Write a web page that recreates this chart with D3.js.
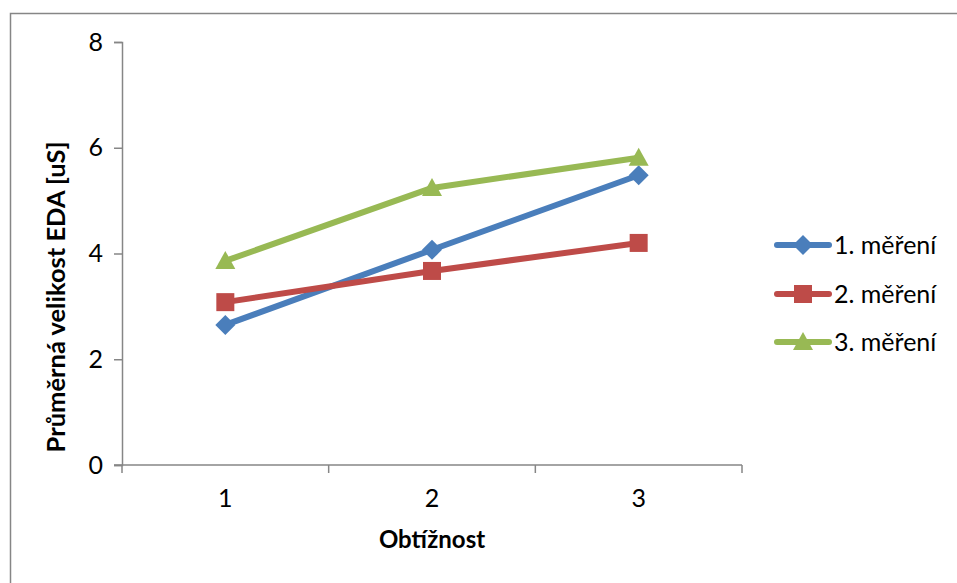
<!DOCTYPE html>
<html><head><meta charset="utf-8">
<script src="https://cdn.jsdelivr.net/npm/d3@7"></script>
<style>body{margin:0;background:#fff}svg{display:block}text{font-family:Lato,"Open Sans",sans-serif}</style>
</head><body><svg id="c" width="957" height="583"></svg>
<script>
const categories = ["1", "2", "3"];
const seriesNames = ["1. měření", "2. měření", "3. měření"];
const series1 = [2.65, 4.07, 5.48];
const series2 = [3.08, 3.67, 4.20];
const series3 = [3.86, 5.24, 5.81];
const yTicks = [0, 2, 4, 6, 8];
const colors = ["#4A7EBB", "#BE4B48", "#98B954"];
const markers = ["diamond", "square", "triangle"];
const allSeries = [series1, series2, series3];

const svg = d3.select("#c");
svg.append("rect").attr("x", 10.5).attr("y", 13.5).attr("width", 1000).attr("height", 1000)
  .attr("fill", "#fff").attr("stroke", "#868686").attr("stroke-width", 1.5);

const x = d3.scaleBand().domain(categories).range([122, 742]).padding(0);
const y = d3.scaleLinear().domain([0, 8]).range([465, 42]);
const axisColor = "#868686";

// Y axis
const gy = svg.append("g").attr("transform", "translate(122,0)")
  .call(d3.axisLeft(y).tickValues(yTicks).tickSize(8).tickPadding(11).tickFormat(d3.format("d")));
gy.select(".domain").attr("stroke", axisColor).attr("stroke-width", 1.5);
gy.selectAll(".tick line").attr("stroke", axisColor).attr("stroke-width", 1.5);
gy.selectAll(".tick text").attr("font-size", 25).attr("fill", "#000").attr("font-family", "Lato");

// X axis
const gx = svg.append("g").attr("transform", "translate(0,465)")
  .call(d3.axisBottom(x).tickSize(0).tickPadding(24));
gx.select(".domain").remove();
gx.selectAll(".tick text").attr("font-size", 25).attr("fill", "#000").attr("font-family", "Lato");
svg.append("line").attr("x1", 114).attr("x2", 742).attr("y1", 465).attr("y2", 465)
  .attr("stroke", axisColor).attr("stroke-width", 1.5);
const bounds = categories.map(c => x(c)).concat([x(categories[categories.length - 1]) + x.bandwidth()]);
svg.selectAll(".xb").data(bounds).join("line")
  .attr("x1", d => d).attr("x2", d => d).attr("y1", 465).attr("y2", 473)
  .attr("stroke", axisColor).attr("stroke-width", 1.5);

// Titles
svg.append("text").attr("x", 432).attr("y", 548).attr("text-anchor", "middle")
  .attr("font-size", 24).attr("font-weight", "bold").text("Obtížnost");
svg.append("text").attr("transform", "translate(65,297) rotate(-90)").attr("text-anchor", "middle")
  .attr("font-size", 25.5).attr("font-weight", "bold").text("Průměrná velikost EDA [uS]");

function marker(g, type, cx, cy, color) {
  if (type === "diamond") {
    const s = 10;
    g.append("path").attr("d", `M${cx},${cy - s}L${cx + s},${cy}L${cx},${cy + s}L${cx - s},${cy}Z`).attr("fill", color);
  } else if (type === "square") {
    const s = 9;
    g.append("rect").attr("x", cx - s).attr("y", cy - s).attr("width", 2 * s).attr("height", 2 * s).attr("fill", color);
  } else {
    const s = 10;
    g.append("path").attr("d", `M${cx},${cy - s}L${cx + s},${cy + s * 0.8}L${cx - s},${cy + s * 0.8}Z`).attr("fill", color);
  }
}

const cx = c => x(c) + x.bandwidth() / 2;
const line = d3.line().x((d, i) => cx(categories[i])).y(d => y(d));
allSeries.forEach((s, k) => {
  const g = svg.append("g");
  g.append("path").datum(s).attr("d", line).attr("fill", "none")
    .attr("stroke", colors[k]).attr("stroke-width", 6).attr("stroke-linejoin", "round").attr("stroke-linecap", "round");
  s.forEach((v, i) => marker(g, markers[k], cx(categories[i]), y(v), colors[k]));
});

// Legend
const legY = [245, 294, 342];
seriesNames.forEach((n, k) => {
  const g = svg.append("g");
  g.append("line").attr("x1", 777).attr("x2", 829).attr("y1", legY[k]).attr("y2", legY[k])
    .attr("stroke", colors[k]).attr("stroke-width", 6).attr("stroke-linecap", "round");
  marker(g, markers[k], 803, legY[k], colors[k]);
  g.append("text").attr("x", 834).attr("y", legY[k]).attr("dy", "0.35em")
    .attr("font-size", 25).text(n);
});
</script></body></html>
